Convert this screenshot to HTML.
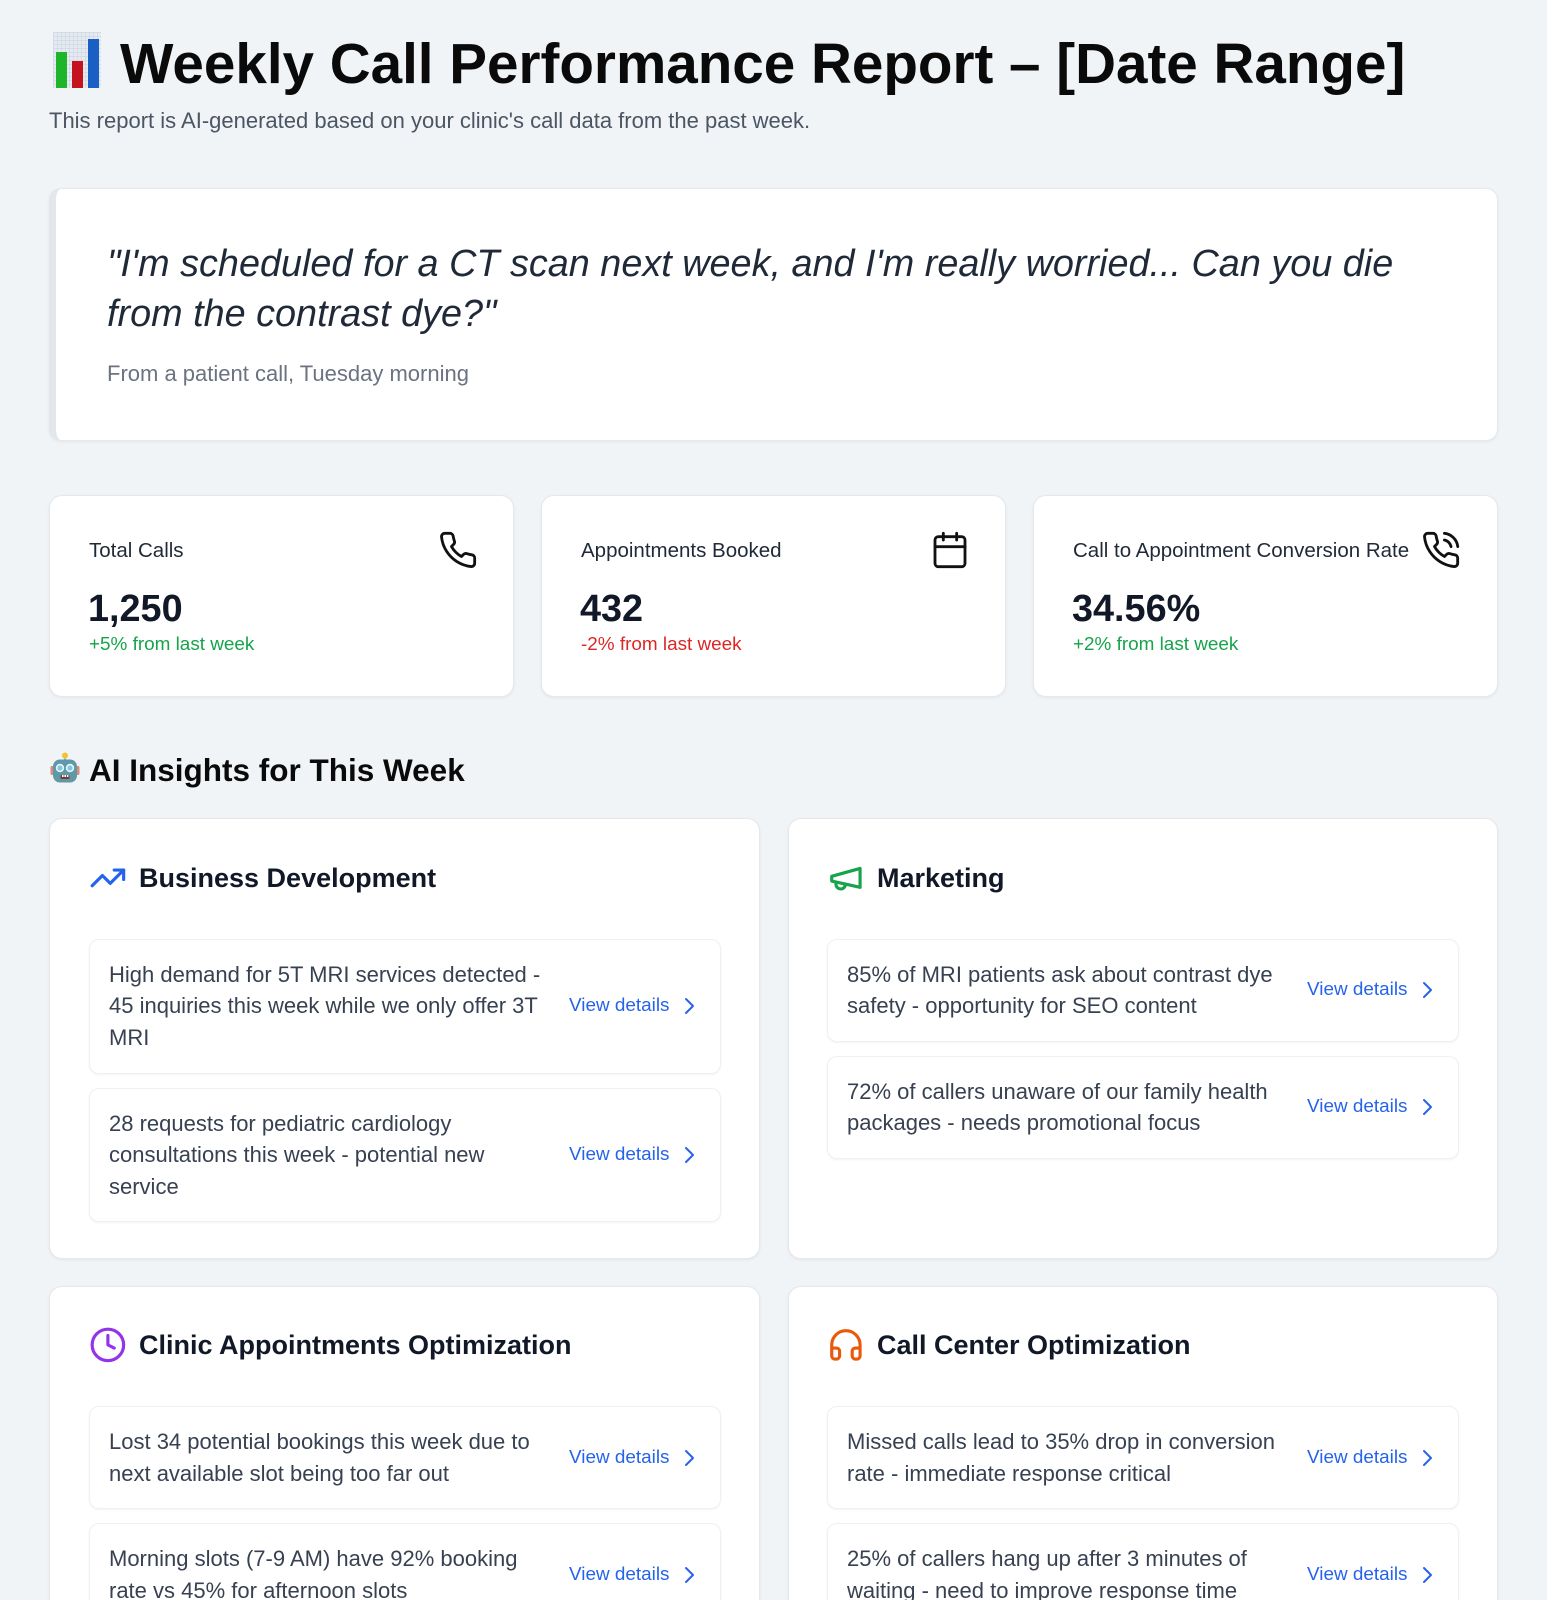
<!DOCTYPE html>
<html><head><meta charset="utf-8">
<style>
*{box-sizing:border-box;margin:0;padding:0}
html,body{width:1547px;height:1600px;overflow:hidden;background:#f1f4f6;font-family:"Liberation Sans",Arial,Helvetica,sans-serif;}
#wrap{position:relative;width:1547px;height:1600px;overflow:hidden;background:#f1f4f6}
.a{position:absolute;white-space:nowrap}
.card{position:absolute;background:#fff;border:1px solid #e6e8eb;border-radius:13px;box-shadow:0 1px 3px rgba(0,0,0,0.06)}
.lbl{position:absolute;font-size:20.5px;line-height:28px;color:#1f2937;white-space:nowrap}
.val{position:absolute;font-size:37.8px;line-height:46px;font-weight:bold;color:#111827;white-space:nowrap}
.chg{position:absolute;font-size:18.9px;line-height:26px;white-space:nowrap}
.sicon{position:absolute;width:40px;height:40px;top:530px}
.hdr{position:absolute;font-size:27px;line-height:38px;font-weight:bold;color:#111827;white-space:nowrap}
.hicon{position:absolute;width:37.8px;height:37.8px}
.item{position:absolute;width:632px;background:#fff;border:1px solid #eef0f2;border-radius:10px;box-shadow:0 1px 2px rgba(0,0,0,0.05)}
.item .t{position:absolute;left:19px;top:19px;width:443px;font-size:22px;line-height:31.5px;color:#374151}
.item .v{position:absolute;left:479px;top:50%;transform:translateY(-50%);font-size:18.9px;line-height:24px;color:#2563eb;white-space:nowrap}
.item svg.ch{position:absolute;left:594px;top:50%;margin-top:-9px;width:11px;height:18px}
</style></head>
<body>
<div id="wrap">

<!-- title emoji -->
<div class="a" style="left:53px;top:32px;width:48px;height:56px;background-color:#e6ebf2;background-image:linear-gradient(#d3dbe6 1px,transparent 1px),linear-gradient(90deg,#d3dbe6 1px,transparent 1px);background-size:4px 4px;">
  <div class="a" style="left:3px;top:20px;width:11px;height:36px;background:#1fb52a;"></div>
  <div class="a" style="left:19px;top:29px;width:11px;height:27px;background:#c4121f;"></div>
  <div class="a" style="left:35px;top:7px;width:11px;height:49px;background:#1a5fc4;"></div>
</div>
<div class="a" style="left:120px;top:35.9px;font-size:56.6px;line-height:56.6px;font-weight:bold;color:#0a0a0a;">Weekly Call Performance Report – [Date Range]</div>
<div class="a" style="left:49px;top:105.6px;font-size:22px;line-height:30px;color:#4b5563;">This report is AI-generated based on your clinic's call data from the past week.</div>

<!-- quote card -->
<div class="card" style="left:49px;top:188px;width:1449px;height:253px;border-left:7px solid #e3e6ea;border-radius:12px;"></div>
<div class="a" style="left:107px;top:238.6px;font-size:37.8px;line-height:50.1px;font-style:italic;color:#1f2937;">"I'm scheduled for a CT scan next week, and I'm really worried... Can you die<br>from the contrast dye?"</div>
<div class="a" style="left:107px;top:359px;font-size:22px;line-height:30px;color:#6b7280;">From a patient call, Tuesday morning</div>

<!-- stat cards -->
<div class="card" style="left:49px;top:494.5px;width:465px;height:202.5px;"></div>
<div class="card" style="left:541px;top:494.5px;width:465px;height:202.5px;"></div>
<div class="card" style="left:1033px;top:494.5px;width:465px;height:202.5px;"></div>

<div class="lbl" style="left:89px;top:536.7px;">Total Calls</div>
<div class="val" style="left:88px;top:585.9px;">1,250</div>
<div class="chg" style="left:89px;top:631.7px;color:#16a34a;">+5% from last week</div>
<svg class="sicon" style="left:437.5px" viewBox="0 0 24 24" fill="none" stroke="#111" stroke-width="1.7" stroke-linecap="round" stroke-linejoin="round"><path d="M22 16.92v3a2 2 0 0 1-2.18 2 19.79 19.79 0 0 1-8.63-3.07 19.5 19.5 0 0 1-6-6 19.79 19.79 0 0 1-3.07-8.670A2 2 0 0 1 4.11 2h3a2 2 0 0 1 2 1.72 12.84 12.84 0 0 0 .7 2.81 2 2 0 0 1-.45 2.11L8.09 9.91a16 16 0 0 0 6 6l1.27-1.27a2 2 0 0 1 2.11-.45 12.84 12.84 0 0 0 2.81.7A2 2 0 0 1 22 16.92z"/></svg>

<div class="lbl" style="left:581px;top:536.7px;">Appointments Booked</div>
<div class="val" style="left:580px;top:585.9px;">432</div>
<div class="chg" style="left:581px;top:631.7px;color:#dc2626;">-2% from last week</div>
<svg class="sicon" style="left:929.5px" viewBox="0 0 24 24" fill="none" stroke="#111" stroke-width="1.7" stroke-linecap="round" stroke-linejoin="round"><rect x="3" y="4" width="18" height="18" rx="2"/><path d="M16 2v4M8 2v4M3 10h18"/></svg>

<div class="lbl" style="left:1073px;top:536.7px;">Call to Appointment Conversion Rate</div>
<div class="val" style="left:1072px;top:585.9px;">34.56%</div>
<div class="chg" style="left:1073px;top:631.7px;color:#16a34a;">+2% from last week</div>
<svg class="sicon" style="left:1421px" viewBox="0 0 24 24" fill="none" stroke="#111" stroke-width="1.7" stroke-linecap="round" stroke-linejoin="round"><path d="M22 16.92v3a2 2 0 0 1-2.18 2 19.79 19.79 0 0 1-8.63-3.07 19.5 19.5 0 0 1-6-6 19.79 19.79 0 0 1-3.07-8.67A2 2 0 0 1 4.11 2h3a2 2 0 0 1 2 1.72 12.84 12.84 0 0 0 .7 2.81 2 2 0 0 1-.45 2.11L8.09 9.91a16 16 0 0 0 6 6l1.27-1.27a2 2 0 0 1 2.11-.45 12.84 12.84 0 0 0 2.81.7A2 2 0 0 1 22 16.92z"/><path d="M14.05 2a9 9 0 0 1 8 7.94"/><path d="M14.05 6A5 5 0 0 1 18 10"/></svg>

<!-- section title -->
<svg class="a" style="left:50px;top:752px;width:30px;height:32px" viewBox="0 0 30 32">
  <line x1="15" y1="4" x2="15" y2="8" stroke="#8a9aa3" stroke-width="1.5"/>
  <circle cx="15" cy="3.5" r="3" fill="#f2c230"/>
  <rect x="0.5" y="14" width="4" height="9" rx="1.5" fill="#d98a78"/>
  <rect x="25.5" y="14" width="4" height="9" rx="1.5" fill="#d98a78"/>
  <rect x="3" y="7.5" width="24" height="23" rx="7" fill="#5f98a6"/>
  <circle cx="10" cy="16" r="4.2" fill="#e8f6fb"/>
  <circle cx="20" cy="16" r="4.2" fill="#e8f6fb"/>
  <circle cx="10" cy="16" r="2.6" fill="#7ec8e6"/>
  <circle cx="20" cy="16" r="2.6" fill="#7ec8e6"/>
  <rect x="10.5" y="23" width="9" height="4" rx="1" fill="#7a3a34"/>
  <rect x="12" y="23" width="1.6" height="2" fill="#fff"/>
  <rect x="14.4" y="23" width="1.6" height="2" fill="#fff"/>
  <rect x="16.8" y="23" width="1.6" height="2" fill="#fff"/>
</svg>
<div class="a" style="left:89px;top:750.4px;font-size:31.5px;line-height:40px;font-weight:bold;color:#0a0a0a;">AI Insights for This Week</div>

<!-- Row 1 left: Business Development -->
<div class="card" style="left:49px;top:818px;width:711px;height:441px;">
  <svg class="hicon" style="left:39px;top:40.4px" viewBox="0 0 24 24" fill="none" stroke="#2563eb" stroke-width="2" stroke-linecap="round" stroke-linejoin="round"><polyline points="22 7 13.5 15.5 8.5 10.5 2 17"/><polyline points="16 7 22 7 22 13"/></svg>
  <div class="hdr" style="left:89px;top:40.3px;">Business Development</div>
  <div class="item" style="left:39px;top:119.5px;height:135px;">
    <div class="t">High demand for 5T MRI services detected - 45 inquiries this week while we only offer 3T MRI</div>
    <div class="v">View details</div>
    <svg class="ch" viewBox="0 0 11 18" fill="none" stroke="#2563eb" stroke-width="2" stroke-linecap="round" stroke-linejoin="round"><polyline points="2 2 9 9 2 16"/></svg>
  </div>
  <div class="item" style="left:39px;top:268.5px;height:134.5px;">
    <div class="t">28 requests for pediatric cardiology consultations this week - potential new service</div>
    <div class="v">View details</div>
    <svg class="ch" viewBox="0 0 11 18" fill="none" stroke="#2563eb" stroke-width="2" stroke-linecap="round" stroke-linejoin="round"><polyline points="2 2 9 9 2 16"/></svg>
  </div>
</div>

<!-- Row 1 right: Marketing -->
<div class="card" style="left:788px;top:818px;width:710px;height:441px;">
  <svg class="hicon" style="left:38px;top:40.4px" viewBox="0 0 24 24" fill="none" stroke="#16a34a" stroke-width="2" stroke-linecap="round" stroke-linejoin="round"><path d="m3 11 18-5v12L3 14v-3z"/><path d="M11.6 16.8a3 3 0 1 1-5.8-1.6"/></svg>
  <div class="hdr" style="left:88px;top:40.3px;">Marketing</div>
  <div class="item" style="left:38px;top:119.5px;height:103px;">
    <div class="t">85% of MRI patients ask about contrast dye safety - opportunity for SEO content</div>
    <div class="v">View details</div>
    <svg class="ch" viewBox="0 0 11 18" fill="none" stroke="#2563eb" stroke-width="2" stroke-linecap="round" stroke-linejoin="round"><polyline points="2 2 9 9 2 16"/></svg>
  </div>
  <div class="item" style="left:38px;top:236.5px;height:103px;">
    <div class="t">72% of callers unaware of our family health packages - needs promotional focus</div>
    <div class="v">View details</div>
    <svg class="ch" viewBox="0 0 11 18" fill="none" stroke="#2563eb" stroke-width="2" stroke-linecap="round" stroke-linejoin="round"><polyline points="2 2 9 9 2 16"/></svg>
  </div>
</div>

<!-- Row 2 left: Clinic Appointments Optimization -->
<div class="card" style="left:49px;top:1286px;width:711px;height:340px;">
  <svg class="hicon" style="left:39px;top:39.4px" viewBox="0 0 24 24" fill="none" stroke="#9333ea" stroke-width="2" stroke-linecap="round" stroke-linejoin="round"><circle cx="12" cy="12" r="10"/><polyline points="12 6 12 12 16 14"/></svg>
  <div class="hdr" style="left:89px;top:39.3px;">Clinic Appointments Optimization</div>
  <div class="item" style="left:39px;top:119px;height:103px;">
    <div class="t">Lost 34 potential bookings this week due to next available slot being too far out</div>
    <div class="v">View details</div>
    <svg class="ch" viewBox="0 0 11 18" fill="none" stroke="#2563eb" stroke-width="2" stroke-linecap="round" stroke-linejoin="round"><polyline points="2 2 9 9 2 16"/></svg>
  </div>
  <div class="item" style="left:39px;top:236px;height:103px;">
    <div class="t">Morning slots (7-9 AM) have 92% booking rate vs 45% for afternoon slots</div>
    <div class="v">View details</div>
    <svg class="ch" viewBox="0 0 11 18" fill="none" stroke="#2563eb" stroke-width="2" stroke-linecap="round" stroke-linejoin="round"><polyline points="2 2 9 9 2 16"/></svg>
  </div>
</div>

<!-- Row 2 right: Call Center Optimization -->
<div class="card" style="left:788px;top:1286px;width:710px;height:340px;">
  <svg class="hicon" style="left:38px;top:39.4px" viewBox="0 0 24 24" fill="none" stroke="#ea580c" stroke-width="2" stroke-linecap="round" stroke-linejoin="round"><path d="M3 14h3a2 2 0 0 1 2 2v3a2 2 0 0 1-2 2H5a2 2 0 0 1-2-2v-7a9 9 0 0 1 18 0v7a2 2 0 0 1-2 2h-1a2 2 0 0 1-2-2v-3a2 2 0 0 1 2-2h3"/></svg>
  <div class="hdr" style="left:88px;top:39.3px;">Call Center Optimization</div>
  <div class="item" style="left:38px;top:119px;height:103px;">
    <div class="t">Missed calls lead to 35% drop in conversion rate - immediate response critical</div>
    <div class="v">View details</div>
    <svg class="ch" viewBox="0 0 11 18" fill="none" stroke="#2563eb" stroke-width="2" stroke-linecap="round" stroke-linejoin="round"><polyline points="2 2 9 9 2 16"/></svg>
  </div>
  <div class="item" style="left:38px;top:236px;height:103px;">
    <div class="t">25% of callers hang up after 3 minutes of waiting - need to improve response time</div>
    <div class="v">View details</div>
    <svg class="ch" viewBox="0 0 11 18" fill="none" stroke="#2563eb" stroke-width="2" stroke-linecap="round" stroke-linejoin="round"><polyline points="2 2 9 9 2 16"/></svg>
  </div>
</div>

</div>
</body></html>
